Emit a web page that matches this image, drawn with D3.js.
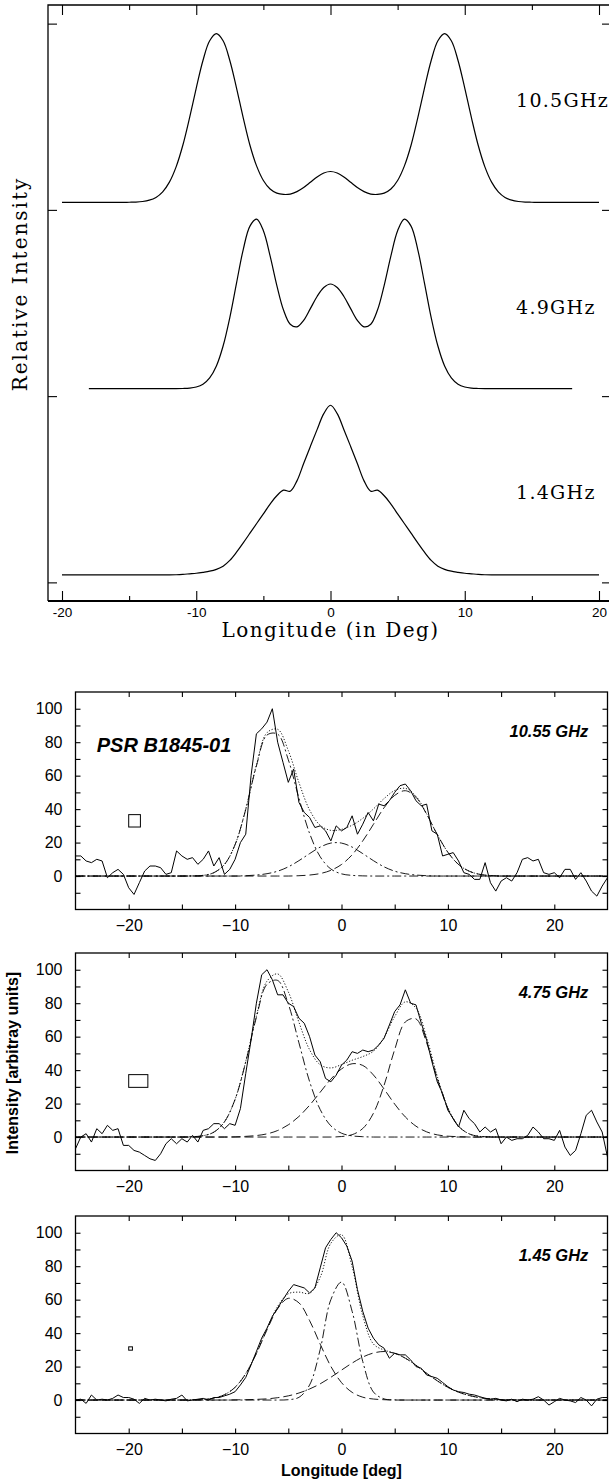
<!DOCTYPE html>
<html>
<head>
<meta charset="utf-8">
<script src="https://cdn.jsdelivr.net/npm/d3@7"></script>
<style>
  body { margin: 0; background: #fff; }
  svg { display: block; }
</style>
</head>
<body>
<div id="chart"></div>
<script>
// ---------- top panel : model profiles (relative intensity, stacked) ----------
var profLabels = ["10.5GHz", "4.9GHz", "1.4GHz"];
var profBase = [2.04, 1.04, 0.04];

// longitude -20..20 step 0.5
var prof105 = [0,0,0,0,0,0,0,0,0,0,
  0.001,0.002,0.005,0.012,0.027,0.057,0.109,0.191,0.307,0.454,
  0.614,0.762,0.868,0.906,0.868,0.762,0.614,0.454,0.307,0.195,
  0.118,0.072,0.050,0.043,0.045,0.058,0.080,0.108,0.137,0.158,
  0.166,
  0.158,0.137,0.108,0.080,0.058,0.045,0.043,0.050,0.072,0.118,
  0.195,0.307,0.454,0.614,0.762,0.868,0.906,0.868,0.762,0.614,
  0.454,0.307,0.191,0.109,0.057,0.027,0.012,0.005,0.002,0.001,
  0,0,0,0,0,0,0,0,0,0];
// longitude -18..18 step 0.5
var prof49 = [0,0,0,0,0,0,0,0,0,0,0,0,0,0,
  0.001,0.003,0.009,0.024,0.058,0.122,0.229,0.382,0.567,0.747,0.873,
  0.910,0.848,0.713,0.555,0.422,0.346,0.332,0.367,0.430,0.495,0.543,
  0.562,
  0.543,0.495,0.430,0.367,0.332,0.346,0.422,0.555,0.713,0.848,0.910,
  0.873,0.747,0.567,0.382,0.229,0.122,0.058,0.024,0.009,0.003,0.001,
  0,0,0,0,0,0,0,0,0,0,0,0,0,0];
// longitude -20..20 step 0.5
var prof14 = [0,0,0,0,0,0,0,0,0,0,0,0,0,0,0,0,0,
  0.001,0.003,0.006,0.009,0.014,0.020,0.030,0.047,0.078,0.122,0.172,0.224,
  0.276,0.328,0.380,0.425,0.455,0.449,0.505,0.598,0.690,0.780,0.866,
  0.911,
  0.866,0.780,0.690,0.598,0.505,0.449,0.455,0.425,0.380,0.328,0.276,
  0.224,0.172,0.122,0.078,0.047,0.030,0.020,0.014,0.009,0.006,0.003,0.001,
  0,0,0,0,0,0,0,0,0,0,0,0,0,0,0,0,0];

var lonTop = d3.range(-20, 20.001, 0.5);
var lon49 = d3.range(-18, 18.001, 0.5);

// ---------- bottom panels : PSR B1845-01 observed profiles + gaussian fits ----------
var freqLabels = ["10.55 GHz", "4.75 GHz", "1.45 GHz"];

// observed, longitude -25..25 step 0.5
var obs1055 = [12,12,9,8,10,9,-1,2,4,1,
  -7,-11,-4,3,6,6,5,1,2,15,
  12,10,11,7,10,15,6,11,1,4,
  10,20,25,60,85,88,92,100,80,68,
  56,64,44,38,35,29,30,27,21,30,
  27,29,36,25,31,38,33,43,42,45,
  50,54,55,51,45,42,43,27,25,12,
  13,14,9,2,1,-2,-2,8,-4,-9,
  -3,-1,-3,2,10,11,9,10,2,1,
  2,-1,4,4,-2,2,-3,-9,-12,-6,
  -1];
var obs475 = [-7,0,2,-3,5,2,7,4,5,-5,
  -5,-8,-9,-11,-13,-14,-10,-4,-1,-4,
  -1,-3,1,-3,4,5,8,8,5,8,
  7,17,38,58,80,97,100,94,85,85,
  80,78,71,68,60,49,45,35,33,37,
  43,46,51,50,52,51,52,55,59,67,
  75,79,88,80,79,68,58,45,33,26,
  16,11,6,16,11,8,3,6,3,5,
  -4,0,-2,-1,-1,1,6,3,-1,-1,
  -2,4,-6,-11,-8,2,13,16,9,3,
  -12];
var obs145 = [0,0.5,-2,3,0,0.5,0,1,3,1.5,
  1.5,0.5,-2,1,0,0.5,0,-0.5,0.5,1,
  3,-0.5,0,0.5,1,0,1.5,1.5,2.5,3.5,
  5,9,13.5,21,29,37,43,50,55,60,
  65,69,68,67,64,67,79,91,96,100,
  97,92,83,66,53,43,37,33,31,25,
  28,27,27,24,20,19,15,14,13,10.5,
  8,6,5,4.5,3.5,3,2,1,0.5,1,
  0,-0.5,0.5,-1,0.5,0,0.5,2,0,-3,
  -1,1,0,-0.5,-1.5,1.5,0,-3.5,0.5,1.5,
  1.5];

// fitted total and components, longitude -25..25 step 1
var fit1055 = [0,0,0,0,0,0,0,0,0,0,0,
  0.1,0.4,2.0,6.9,18.8,40.0,66.3,85.7,87.7,75.0,55.9,39.5,30.3,27.3,27.9,
  30.4,34.5,40.1,46.3,51.1,52.4,47.7,37.2,24.8,14.2,6.9,2.9,1.0,0.3,
  0,0,0,0,0,0,0,0,0,0,0];
var c1055a = [0,0,0,0,0,0,0,0,0,0,0,
  0.1,0.4,2.0,6.9,18.8,39.8,65.7,84.3,84.8,69.5,46.5,25.5,11.5,4.2,1.3,0.4,0.1,
  0,0,0,0,0,0,0,0,0,0,0,0,0,0,0,0,0,0,0,0,0,0,0];
var c1055b = [0,0,0,0,0,0,0,0,0,0,0,0,0,0,0,0,
  0.2,0.6,1.4,2.9,5.5,9.2,13.4,17.3,19.7,19.7,17.3,13.4,9.2,5.5,2.9,1.4,0.6,0.2,
  0,0,0,0,0,0,0,0,0,0,0,0,0,0,0,0,0];
var c1055c = [0,0,0,0,0,0,0,0,0,0,0,0,0,0,0,0,0,0,0,0,0,
  0.2,0.6,1.5,3.4,6.9,12.7,21.0,30.9,40.8,48.2,51.0,47.1,37.0,24.8,14.2,6.9,2.9,1.0,0.3,
  0,0,0,0,0,0,0,0,0,0,0];

var fit475 = [0,0,0,0,0,0,0,0,0,0,0,
  0.2,0.8,2.9,9.1,22.6,45.2,72.4,93.2,97.5,86.8,68.6,52.2,43.2,41.3,43.3,
  45.9,48.1,51.3,59.6,72.0,80.8,77.1,59.5,36.3,17.5,6.6,1.9,0.4,0.1,
  0,0,0,0,0,0,0,0,0,0,0];
var c475a = [0,0,0,0,0,0,0,0,0,0,0,
  0.2,0.8,2.9,9.1,22.5,44.8,71.5,91.3,93.6,79.5,56.3,33.2,16.4,6.7,2.3,0.7,0.2,
  0,0,0,0,0,0,0,0,0,0,0,0,0,0,0,0,0,0,0,0,0,0,0];
var c475b = [0,0,0,0,0,0,0,0,0,0,0,0,0,0,0,
  0.1,0.4,0.9,1.9,3.9,7.3,12.3,19.0,26.8,34.6,40.7,43.8,42.8,37.1,28.7,19.7,12.0,6.5,3.1,1.3,0.5,0.2,
  0,0,0,0,0,0,0,0,0,0,0,0,0,0];
var c475c = [0,0,0,0,0,0,0,0,0,0,0,0,0,0,0,0,0,0,0,0,0,0,0,0,0,
  0.3,1.4,5.1,14.2,30.9,52.3,68.8,70.6,56.4,35.0,17.0,6.4,1.9,0.4,0.1,
  0,0,0,0,0,0,0,0,0,0,0];

var fit145 = [0,0,0,0,0,0,0,0,0,0,0,
  0.1,0.3,1.1,3.2,7.7,15.9,28.1,42.7,56.0,63.5,64.5,63.8,73.4,93.7,98.8,
  79.7,50.4,33.5,29.9,28.0,25.0,20.8,16.0,11.5,7.6,4.7,2.7,1.4,0.7,0.3,0.1,
  0,0,0,0,0,0,0,0,0];
var c145a = [0,0,0,0,0,0,0,0,0,0,0,
  0.1,0.3,1.1,3.2,7.6,15.7,27.7,42.0,54.6,60.8,58.1,47.5,33.4,20.1,10.4,4.6,1.7,0.6,0.2,
  0,0,0,0,0,0,0,0,0,0,0,0,0,0,0,0,0,0,0,0,0];
var c145b = [0,0,0,0,0,0,0,0,0,0,0,0,0,0,0,0,0,0,0,0,
  0.2,1.6,9.0,30.3,60.0,70.5,53.0,23.0,4.8,0.7,0.1,
  0,0,0,0,0,0,0,0,0,0,0,0,0,0,0,0,0,0,0,0];
var c145c = [0,0,0,0,0,0,0,0,0,0,0,0,0,0,0,
  0.1,0.2,0.4,0.7,1.4,2.5,4.2,6.6,9.7,13.6,17.9,22.1,25.7,28.1,29.0,27.9,25.0,
  20.8,16.0,11.5,7.6,4.7,2.7,1.4,0.7,0.3,0.1,
  0,0,0,0,0,0,0,0,0];

// resolution boxes: left edge (deg), width (deg), centre value, height
var resLeft = [-20, -20, -20];
var resWidth = [1.1, 1.8, 0.35];
var resVal = [33, 33.5, 30.8];
var resHeight = [7.4, 7.6, 2];

var obsLon = d3.range(-25, 25.001, 0.5);
var fitLon = d3.range(-25, 25.001, 1);

var panels = [
  {obs: obs1055, fit: fit1055, comps: [c1055a, c1055b, c1055c], dash: ["dd", "dd", "da"]},
  {obs: obs475, fit: fit475, comps: [c475a, c475b, c475c], dash: ["dd", "da", "da"]},
  {obs: obs145, fit: fit145, comps: [c145a, c145b, c145c], dash: ["da", "dd", "da"]}
];

var W = 609, H = 1481;
var SERIF = "'DejaVu Serif', serif";
var SANS = "'Liberation Sans', Arial, sans-serif";
var dashes = {dd: "9,3,2,3", da: "9,4"};

var svg = d3.select("#chart").append("svg")
    .attr("width", W)
    .attr("height", H);

// ===================== top panel =====================
var tx = d3.scaleLinear().domain([-20, 20]).range([62, 599]);
var ty = d3.scaleLinear().domain([-0.1, 3.1]).range([601, 5]);

var topG = svg.append("g");

function styleAxis(g) {
  g.select(".domain").remove();
  g.selectAll(".tick line").attr("stroke", "#000").attr("stroke-width", 1.1);
}

topG.append("g")
    .attr("transform", "translate(0," + ty(-0.1) + ")")
    .call(d3.axisBottom(tx).tickValues([-20, -10, 0, 10, 20]).tickSize(-10).tickPadding(6)
      .tickFormat(function(d) { return String(d); }))
    .call(styleAxis)
    .call(function(g) {
      g.selectAll("text").attr("font-family", SANS).attr("font-size", 13.5).attr("fill", "#000");
    });
topG.append("g")
    .attr("transform", "translate(0," + ty(-0.1) + ")")
    .call(d3.axisBottom(tx).tickValues([-15, -5, 5, 15]).tickSize(-5).tickFormat(""))
    .call(styleAxis);
topG.append("g")
    .attr("transform", "translate(0," + ty(3.1) + ")")
    .call(d3.axisTop(tx).tickValues([-20, -10, 0, 10, 20]).tickSize(-10).tickFormat(""))
    .call(styleAxis);
topG.append("g")
    .attr("transform", "translate(0," + ty(3.1) + ")")
    .call(d3.axisTop(tx).tickValues([-15, -5, 5, 15]).tickSize(-5).tickFormat(""))
    .call(styleAxis);
topG.append("g")
    .attr("transform", "translate(48,0)")
    .call(d3.axisLeft(ty).tickValues([0, 1, 2, 3]).tickSize(-9).tickFormat(""))
    .call(styleAxis);
topG.append("g")
    .attr("transform", "translate(611,0)")
    .call(d3.axisRight(ty).tickValues([0, 1, 2, 3]).tickSize(-9).tickFormat(""))
    .call(styleAxis);

// frame
topG.append("path")
    .attr("d", "M48," + ty(-0.1) + "V" + ty(3.1) + "H611")
    .attr("fill", "none").attr("stroke", "#000").attr("stroke-width", 1.3);
topG.append("line")
    .attr("x1", 48).attr("x2", 611)
    .attr("y1", ty(-0.1)).attr("y2", ty(-0.1))
    .attr("stroke", "#000").attr("stroke-width", 2);

var profData = [prof105, prof49, prof14];
var profLon = [lonTop, lon49, lonTop];
profData.forEach(function(p, k) {
  var line = d3.line()
      .x(function(d, i) { return tx(profLon[k][i]); })
      .y(function(d) { return ty(profBase[k] + d); })
      .curve(d3.curveCatmullRom);
  topG.append("path")
      .attr("d", line(p))
      .attr("fill", "none").attr("stroke", "#000").attr("stroke-width", 1.2);
});

var labLift = [0.51, 0.40, 0.41];
profLabels.forEach(function(t, k) {
  topG.append("text")
      .attr("x", 516)
      .attr("y", ty(profBase[k] + labLift[k]))
      .attr("font-family", SERIF).attr("font-size", 19)
      .attr("letter-spacing", 1.3)
      .text(t);
});

topG.append("text")
    .attr("x", tx(0)).attr("y", 637)
    .attr("text-anchor", "middle")
    .attr("font-family", SERIF).attr("font-size", 20)
    .attr("letter-spacing", 1.5)
    .text("Longitude (in Deg)");

topG.append("text")
    .attr("transform", "translate(27," + 284 + ") rotate(-90)")
    .attr("text-anchor", "middle")
    .attr("font-family", SERIF).attr("font-size", 20)
    .attr("letter-spacing", 2)
    .text("Relative Intensity");

// ===================== bottom panels =====================
var bx = d3.scaleLinear().domain([-25, 25]).range([75.5, 607.5]);
var panelTop = [692, 953, 1216];
var panelH = 217.5;
var fmt = d3.format("d");

panels.forEach(function(p, k) {
  var top = panelTop[k], bot = top + panelH;
  var by = d3.scaleLinear().domain([-20, 110]).range([bot, top]);
  var g = svg.append("g");

  g.append("clipPath").attr("id", "clip" + k)
    .append("rect")
      .attr("x", bx(-25)).attr("y", top)
      .attr("width", bx(25) - bx(-25)).attr("height", panelH);

  // ticks (all inside)
  g.append("g")
      .attr("transform", "translate(0," + bot + ")")
      .call(d3.axisBottom(bx).tickValues(d3.range(-20, 21, 5)).tickSize(-5).tickPadding(10)
        .tickFormat(function(d) { return d % 10 === 0 ? fmt(d) : ""; }))
      .call(styleAxis)
      .call(function(a) {
        a.selectAll("text").attr("font-family", SANS).attr("font-size", 16).attr("fill", "#000");
      });
  g.append("g")
      .attr("transform", "translate(0," + top + ")")
      .call(d3.axisTop(bx).tickValues(d3.range(-20, 21, 5)).tickSize(-5).tickFormat(""))
      .call(styleAxis);
  g.append("g")
      .attr("transform", "translate(" + bx(-25) + ",0)")
      .call(d3.axisLeft(by).tickValues(d3.range(-10, 101, 10)).tickSize(-5).tickPadding(13)
        .tickFormat(function(d) { return d % 20 === 0 ? fmt(d) : ""; }))
      .call(styleAxis)
      .call(function(a) {
        a.selectAll("text").attr("font-family", SANS).attr("font-size", 16).attr("fill", "#000");
      });
  g.append("g")
      .attr("transform", "translate(" + bx(25) + ",0)")
      .call(d3.axisRight(by).tickValues(d3.range(-10, 101, 10)).tickSize(-5).tickFormat(""))
      .call(styleAxis);

  var plot = g.append("g").attr("clip-path", "url(#clip" + k + ")");

  var fitLine = d3.line()
      .x(function(d, i) { return bx(fitLon[i]); })
      .y(function(d) { return by(d); })
      .curve(d3.curveCatmullRom);

  p.comps.forEach(function(c, j) {
    plot.append("path")
        .attr("d", fitLine(c))
        .attr("fill", "none").attr("stroke", "#000").attr("stroke-width", 0.9)
        .attr("stroke-dasharray", dashes[p.dash[j]]);
  });

  plot.append("path")
      .attr("d", fitLine(p.fit))
      .attr("fill", "none").attr("stroke", "#000").attr("stroke-width", 0.9)
      .attr("stroke-dasharray", "1.2,1.8");

  var obsLine = d3.line()
      .x(function(d, i) { return bx(obsLon[i]); })
      .y(function(d) { return by(d); });
  plot.append("path")
      .attr("d", obsLine(p.obs))
      .attr("fill", "none").attr("stroke", "#000").attr("stroke-width", 1);

  // resolution box
  g.append("rect")
      .attr("x", bx(resLeft[k]))
      .attr("y", by(resVal[k] + resHeight[k] / 2))
      .attr("width", bx(resLeft[k] + resWidth[k]) - bx(resLeft[k]))
      .attr("height", by(resVal[k] - resHeight[k] / 2) - by(resVal[k] + resHeight[k] / 2))
      .attr("fill", "none").attr("stroke", "#000").attr("stroke-width", 1);

  g.append("text")
      .attr("x", bx(23.2)).attr("y", by(83))
      .attr("text-anchor", "end")
      .attr("font-family", SANS).attr("font-size", 16.5)
      .attr("font-weight", "bold").attr("font-style", "italic")
      .text(freqLabels[k]);

  if (k === 0) {
    g.append("text")
        .attr("x", bx(-23)).attr("y", by(74))
        .attr("font-family", SANS).attr("font-size", 20)
        .attr("font-weight", "bold").attr("font-style", "italic")
        .text("PSR B1845-01");
  }

  // frame
  g.append("rect")
      .attr("x", bx(-25)).attr("y", top)
      .attr("width", bx(25) - bx(-25)).attr("height", panelH)
      .attr("fill", "none").attr("stroke", "#000").attr("stroke-width", 1.3);
});

svg.append("text")
    .attr("x", bx(0)).attr("y", 1476)
    .attr("text-anchor", "middle")
    .attr("font-family", SANS).attr("font-size", 16).attr("font-weight", "bold")
    .text("Longitude [deg]");

svg.append("text")
    .attr("transform", "translate(18,1063) rotate(-90)")
    .attr("text-anchor", "middle")
    .attr("font-family", SANS).attr("font-size", 16).attr("font-weight", "bold")
    .text("Intensity [arbitray units]");
</script>
</body>
</html>
